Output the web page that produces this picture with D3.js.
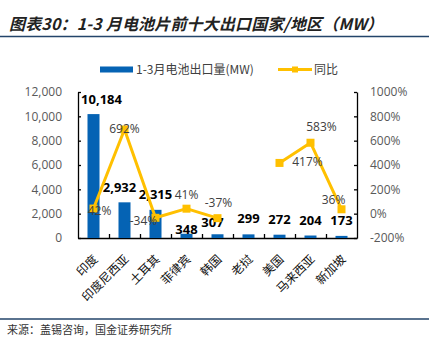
<html>
<head>
<meta charset="utf-8">
<style>
body { margin: 0; background: #fff; }
svg { font-family: "Open Sans", "Noto Sans CJK SC", sans-serif; }
.axis path, .axis line { stroke: #000; stroke-width: 1.3px; }
.axis text { fill: #595959; font-size: 12px; font-family: "Open Sans", sans-serif; }
.cat { fill: #111; font-size: 12px; font-family: "Noto Sans CJK SC", sans-serif; }
.barlabel { fill: #000; font-size: 13px; font-weight: bold; }
.linelabel { fill: #404040; font-size: 12px; }
</style>
</head>
<body>
<svg width="431" height="343"></svg>
<script src="https://cdn.jsdelivr.net/npm/d3@7"></script>
<script>
const categories = ["印度", "印度尼西亚", "土耳其", "菲律宾", "韩国", "老挝", "美国", "马来西亚", "新加坡"];
const exportMW = [10184, 2932, 2315, 348, 307, 299, 272, 204, 173];
const yoyPct = [42, 692, -34, 41, -37, null, 417, 583, 36];
const leftTicks = [0, 2000, 4000, 6000, 8000, 10000, 12000];
const rightTicks = [-200, 0, 200, 400, 600, 800, 1000];

const blue = "#0563b4", gold = "#ffc000", navy = "#23446a";

const svg = d3.select("svg");
const plotL = 78, plotR = 357, plotT = 92, plotB = 238;

// title + rules
svg.append("text")
    .attr("x", 9).attr("y", 30)
    .attr("textLength", 374).attr("lengthAdjust", "spacing")
    .style("font-family", "'Noto Sans CJK SC', sans-serif")
    .style("font-size", "16px").style("font-weight", "bold").style("font-style", "italic")
    .attr("fill", "#222")
    .text("图表30：1-3 月电池片前十大出口国家/地区（MW）");
svg.append("line").attr("x1", 0).attr("x2", 429).attr("y1", 36.5).attr("y2", 36.5)
    .attr("stroke", navy).attr("stroke-width", 1.5);
svg.append("line").attr("x1", 0).attr("x2", 429).attr("y1", 319).attr("y2", 319)
    .attr("stroke", navy).attr("stroke-width", 1.5);
svg.append("text")
    .attr("x", 7).attr("y", 334)
    .style("font-family", "'Noto Sans CJK SC', sans-serif")
    .style("font-size", "11px").attr("fill", "#333")
    .text("来源：盖锡咨询，国金证券研究所");

// legend
const legend = svg.append("g").style("font-family", "'Noto Sans CJK SC', sans-serif").style("font-size", "12px");
legend.append("rect").attr("x", 100).attr("y", 66.5).attr("width", 33).attr("height", 6).attr("fill", blue);
legend.append("text").attr("x", 136).attr("y", 74).attr("fill", "#404040").text("1-3月电池出口量(MW)");
legend.append("line").attr("x1", 278).attr("x2", 312).attr("y1", 69.5).attr("y2", 69.5)
    .attr("stroke", gold).attr("stroke-width", 3);
legend.append("rect").attr("x", 292).attr("y", 66.5).attr("width", 6).attr("height", 6).attr("fill", gold);
legend.append("text").attr("x", 314).attr("y", 74).attr("fill", "#404040").text("同比");

// scales
const x = d3.scaleBand().domain(categories).range([plotL, plotR]);
const slots = d3.scaleLinear().domain([0, categories.length]).range([plotL, plotR]);
const yL = d3.scaleLinear().domain([0, 12000]).range([plotB, plotT]);
const yR = d3.scaleLinear().domain([-200, 1000]).range([plotB, plotT]);
const cx = d => x(d) + x.bandwidth() / 2;

// axes
svg.append("g").attr("class", "axis").attr("transform", `translate(${plotL},0)`)
    .call(d3.axisLeft(yL).tickValues(leftTicks).tickFormat(d3.format(",")).tickSize(-3).tickSizeOuter(0).tickPadding(16));
svg.append("g").attr("class", "axis").attr("transform", `translate(${plotR},0)`)
    .call(d3.axisRight(yR).tickValues(rightTicks).tickFormat(d => d + "%").tickSize(-3).tickSizeOuter(0).tickPadding(13));
svg.append("g").attr("class", "axis").attr("transform", `translate(0,${plotB})`)
    .call(d3.axisBottom(slots).tickValues(d3.range(1, categories.length)).tickFormat("").tickSize(-4).tickSizeOuter(0));

// category labels, slanted
svg.append("g").selectAll("text").data(categories).join("text")
    .attr("class", "cat")
    .attr("text-anchor", "end")
    .attr("dominant-baseline", "central")
    .attr("transform", d => `translate(${cx(d) + 1},${plotB + 18}) rotate(-45)`)
    .text(d => d);

// bars
const barW = 12;
svg.append("g").selectAll("rect").data(categories).join("rect")
    .attr("x", d => cx(d) - barW / 2)
    .attr("width", barW)
    .attr("y", (d, i) => yL(exportMW[i]))
    .attr("height", (d, i) => plotB - yL(exportMW[i]))
    .attr("fill", blue);

// bar value labels (a few nudged where they collide with the line)
const barNudge = { "印度": [8, 1], "印度尼西亚": [-5, 1], "菲律宾": [0, 11], "韩国": [-5, 4] };
svg.append("g").selectAll("text").data(categories).join("text")
    .attr("class", "barlabel")
    .attr("text-anchor", "middle")
    .attr("dominant-baseline", "central")
    .attr("x", d => cx(d) + (barNudge[d] ? barNudge[d][0] : 0))
    .attr("y", (d, i) => yL(exportMW[i]) - 16 + (barNudge[d] ? barNudge[d][1] : 0))
    .text((d, i) => d3.format(",")(exportMW[i]));

// yoy line, broken where there's no value
const pts = categories.map((d, i) => ({ c: d, v: yoyPct[i] }));
const line = d3.line()
    .defined(p => p.v !== null)
    .x(p => cx(p.c))
    .y(p => yR(p.v));
svg.append("path").datum(pts)
    .attr("d", line)
    .attr("fill", "none")
    .attr("stroke", gold)
    .attr("stroke-width", 3)
    .attr("stroke-linejoin", "round");
const valid = pts.filter(p => p.v !== null);
svg.append("g").selectAll("rect").data(valid).join("rect")
    .attr("x", p => cx(p.c) - 4)
    .attr("y", p => yR(p.v) - 4)
    .attr("width", 8).attr("height", 8)
    .attr("fill", gold);

const yoyOffset = {
    "印度": [6, 2], "印度尼西亚": [0, -1], "土耳其": [-12, 3], "菲律宾": [0, -14],
    "韩国": [1, -16], "美国": [28, -1], "马来西亚": [11, -16], "新加坡": [-8, -10]
};
svg.append("g").selectAll("text").data(valid).join("text")
    .attr("class", "linelabel")
    .attr("text-anchor", "middle")
    .attr("dominant-baseline", "central")
    .attr("x", p => cx(p.c) + yoyOffset[p.c][0])
    .attr("y", p => yR(p.v) + yoyOffset[p.c][1])
    .text(p => p.v + "%");
</script>
</body>
</html>
